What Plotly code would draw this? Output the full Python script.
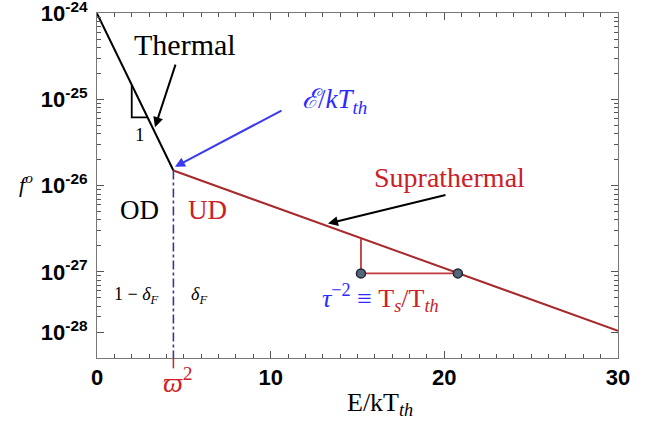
import numpy as np
import plotly.graph_objects as go

# ---- data ----
thermal_x = [0.0, 4.4]
thermal_f = [1e-24, 1.5e-26]
supra_x = [4.4, 30.0]
supra_f = [1.5e-26, 2.07e-28]
tri_th_x = [2.0, 2.0, 2.9]
tri_th_f = [1.47e-25, 6.2e-26, 6.2e-26]
tri_s_x = [15.2, 15.2, 20.78]
tri_s_f = [2.46e-27, 9.6e-28, 9.6e-28]
dot_x = [15.2, 20.78]
dot_f = [9.6e-28, 9.6e-28]
omega_x = [4.4, 4.4]
omega_f = [1.5e-26, 1e-28]
x_ticks = [0, 10, 20, 30]
y_tickvals = [1e-24, 1e-25, 1e-26, 1e-27, 2e-28]
y_ticktext = ["<b>10<sup>-24</sup></b>", "<b>10<sup>-25</sup></b>", "<b>10<sup>-26</sup></b>",
              "<b>10<sup>-27</sup></b>", "<b>10<sup>-28</sup></b>"]
x_ticktext = ["<b>0</b>", "<b>10</b>", "<b>20</b>", "<b>30</b>"]

RED_LINE = "#a8282c"
RED_TXT = "#cc2027"
BLUE = "#2b2bff"
SERIF = "Liberation Serif"
SANS = "Liberation Sans"

fig = go.Figure()
fig.add_trace(go.Scatter(x=thermal_x, y=thermal_f, mode="lines",
                         line=dict(color="black", width=2), showlegend=False))
fig.add_trace(go.Scatter(x=supra_x, y=supra_f, mode="lines",
                         line=dict(color=RED_LINE, width=2), showlegend=False))
fig.add_trace(go.Scatter(x=tri_th_x, y=tri_th_f, mode="lines",
                         line=dict(color="black", width=1.8), showlegend=False))
fig.add_trace(go.Scatter(x=tri_s_x, y=tri_s_f, mode="lines",
                         line=dict(color="#c0393c", width=1.8), showlegend=False))
fig.add_trace(go.Scatter(x=omega_x, y=omega_f, mode="lines",
                         line=dict(color="#3a3a8c", width=1.6, dash="dashdot"),
                         showlegend=False))
fig.add_trace(go.Scatter(x=dot_x, y=dot_f, mode="markers",
                         marker=dict(size=9, color="#56667a",
                                     line=dict(color="#1d2633", width=1.5)),
                         showlegend=False))

minor_vals = [k * 10.0 ** n for n in range(-28, -24) for k in range(2, 10)]

fig.update_xaxes(range=[0, 30], tickvals=x_ticks, ticktext=x_ticktext,
                 ticks="inside", ticklen=7, automargin=False,
                 tickcolor="#555", showline=True, linecolor="#777", linewidth=1,
                 mirror="ticks", showgrid=False, zeroline=False,
                 tickfont=dict(family=SANS, size=22, color="black"),
                 minor=dict(dtick=1, ticks="inside", ticklen=4, tickcolor="#555",
                            showgrid=False))
fig.update_yaxes(type="log", range=[-28, -23.995], tickvals=y_tickvals,
                 ticktext=y_ticktext, ticks="inside", ticklen=7, tickcolor="#555",
                 automargin=False, ticklabelstandoff=4, ticklabeloverflow="allow",
                 showline=True, linecolor="#777", linewidth=1, mirror="ticks",
                 showgrid=False, zeroline=False,
                 tickfont=dict(family=SANS, size=22, color="black"),
                 minor=dict(tickmode="array", tickvals=minor_vals, ticks="inside",
                            ticklen=4, tickcolor="#555", showgrid=False))

ann = []
def txt(x, y, text, size, color="black", xref="x", yref="y"):
    ann.append(dict(x=x, y=y, xref=xref, yref=yref, text=text, showarrow=False,
                    font=dict(family=SERIF, size=size, color=color),
                    xanchor="center", yanchor="middle"))

def arrow(x, y, ax, ay, color):
    ann.append(dict(x=x, y=y, xref="x", yref="y", ax=ax, ay=ay, text="",
                    showarrow=True, arrowhead=2, arrowsize=1, arrowwidth=2,
                    arrowcolor=color))

txt(5.05, -24.36, "Thermal", 30)
txt(2.48, -25.40, "1", 19)
txt(13.65, -25.02, "<i>ℰ</i>/<i>kT<sub>th</sub></i>", 27, BLUE)
txt(20.3, -25.91, "Suprathermal", 28, RED_TXT)
txt(2.42, -26.28, "OD", 27)
txt(6.35, -26.28, "UD", 27, RED_TXT)
txt(2.25, -27.27, "1 − <i>δ<sub>F</sub></i>", 18)
txt(5.87, -27.27, "<i>δ<sub>F</sub></i>", 18)
txt(16.35, -27.30,
    "<span style='color:%s'><i>τ</i><sup>−2</sup> ≡ </span>T<sub><i>s</i></sub>/T<sub><i>th</i></sub>" % BLUE,
    26, RED_TXT)
txt(4.66, -0.066, "<i>ϖ</i><sup>2</sup>", 28, RED_TXT, yref="paper")
txt(16.3, -0.133, "E/kT<sub><i>th</i></sub>", 26, xref="x", yref="paper")
txt(-0.137, -25.97, "<i>f</i><sup><i>o</i></sup>", 22, xref="paper")

arrow(3.34, -25.32, 21, -64, "black")
arrow(4.49, -25.78, 108, -57, "#3a3aee")
arrow(13.3, -26.44, 119, -29, "black")

fig.update_layout(
    width=657, height=426, plot_bgcolor="white", paper_bgcolor="white",
    margin=dict(l=97, r=39, t=13, b=68), annotations=ann,
    shapes=[dict(type="line", xref="x", yref="paper", x0=4.4, x1=4.4,
                 y0=0, y1=-0.03, line=dict(color=RED_TXT, width=1.5))],
)
# remove the default 8px page margin so the figure fills the window exactly
fig.write_html("out.html", config={"displayModeBar": False},
               post_script="document.body.style.margin='0';")
